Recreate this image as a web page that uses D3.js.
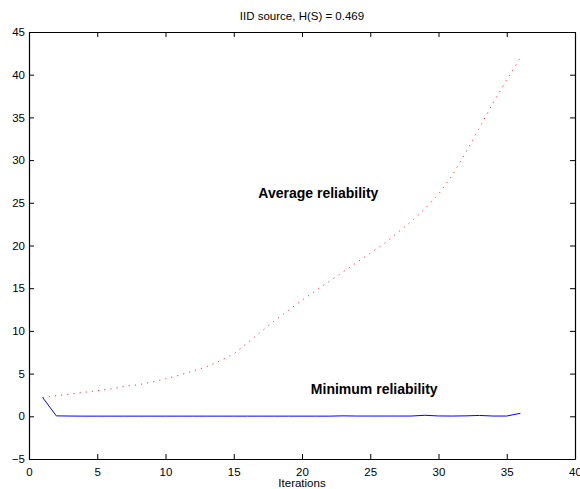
<!DOCTYPE html>
<html>
<head>
<meta charset="utf-8">
<script src="https://cdn.jsdelivr.net/npm/d3@7"></script>
<style>
  body { margin: 0; background: #fff; overflow: hidden; }
  text { font-family: "Liberation Sans", Arial, sans-serif; }
</style>
</head>
<body>
<div id="chart"></div>
<script>
// iterations 1..36
var iterations = d3.range(1, 37);
var avgReliability = [2.2, 2.4, 2.6, 2.8, 3.0, 3.2, 3.5, 3.7, 4.0, 4.4,
  4.8, 5.3, 5.8, 6.5, 7.3, 8.6, 9.9, 11.2, 12.4, 13.6,
  14.7, 15.8, 16.9, 18.0, 19.1, 20.2, 21.5, 22.8, 24.3, 26.0,
  28.2, 30.9, 33.8, 36.7, 39.4, 42.0];
var minReliability = [2.2, 0.05, 0.03, 0.02, 0.02, 0.02, 0.02, 0.02, 0.02, 0.02,
  0.02, 0.02, 0.02, 0.02, 0.02, 0.02, 0.02, 0.02, 0.02, 0.02,
  0.02, 0.02, 0.05, 0.03, 0.03, 0.03, 0.03, 0.03, 0.12, 0.04,
  0.03, 0.05, 0.1, 0.03, 0.03, 0.35];
var xTicks = [0, 5, 10, 15, 20, 25, 30, 35, 40];
var yTicks = [-5, 0, 5, 10, 15, 20, 25, 30, 35, 40, 45];

(function () {
  var width = 580, height = 489;
  var mLeft = 29, mRight = 575, mTop = 32, mBottom = 459;

  var svg = d3.select('#chart').append('svg')
    .attr('width', width)
    .attr('height', height);

  var x = d3.scaleLinear().domain([0, 40]).range([mLeft, mRight]);
  var y = d3.scaleLinear().domain([-5, 45]).range([mBottom, mTop]);

  // axes (ticks pointing inward, MATLAB style box)
  svg.append('g')
    .attr('transform', 'translate(0,' + mBottom + ')')
    .call(d3.axisBottom(x).tickValues(xTicks).tickSizeInner(-5).tickSizeOuter(0).tickPadding(9));
  svg.append('g')
    .attr('transform', 'translate(0,' + mTop + ')')
    .call(d3.axisTop(x).tickValues(xTicks).tickSizeInner(-5).tickSizeOuter(0).tickFormat(''));
  svg.append('g')
    .attr('transform', 'translate(' + mLeft + ',0)')
    .call(d3.axisLeft(y).tickValues(yTicks).tickSizeInner(-5).tickSizeOuter(0).tickPadding(4));
  svg.append('g')
    .attr('transform', 'translate(' + mRight + ',0)')
    .call(d3.axisRight(y).tickValues(yTicks).tickSizeInner(-5).tickSizeOuter(0).tickFormat(''));

  svg.selectAll('.domain').attr('stroke', '#000').attr('stroke-width', 1.2);
  svg.selectAll('.tick line').attr('stroke', '#000');
  svg.selectAll('.tick text')
    .attr('font-size', 11.5)
    .attr('font-family', '"Liberation Sans", Arial, sans-serif')
    .attr('fill', '#000');

  var line = d3.line()
    .x(function (d, i) { return x(iterations[i]); })
    .y(function (d) { return y(d); });

  // average reliability, red dotted
  svg.append('path')
    .datum(avgReliability)
    .attr('fill', 'none')
    .attr('stroke', '#ff3030')
    .attr('stroke-width', 1)
    .attr('stroke-dasharray', '1.2,5')
    .attr('d', line);

  // minimum reliability, blue solid
  svg.append('path')
    .datum(minReliability)
    .attr('fill', 'none')
    .attr('stroke', '#0000ff')
    .attr('stroke-width', 1)
    .attr('d', line);

  // labels
  svg.append('text')
    .attr('x', x(16.8)).attr('y', y(25.6))
    .attr('font-size', 14).attr('font-weight', 'bold')
    .text('Average reliability');

  svg.append('text')
    .attr('x', x(20.65)).attr('y', y(2.6))
    .attr('font-size', 14).attr('font-weight', 'bold')
    .text('Minimum reliability');

  svg.append('text')
    .attr('x', 302).attr('y', 20)
    .attr('text-anchor', 'middle')
    .attr('font-size', 11.5)
    .text('IID source, H(S) = 0.469');

  svg.append('text')
    .attr('x', 302).attr('y', 487)
    .attr('text-anchor', 'middle')
    .attr('font-size', 11.5)
    .text('Iterations');
})();
</script>
</body>
</html>
